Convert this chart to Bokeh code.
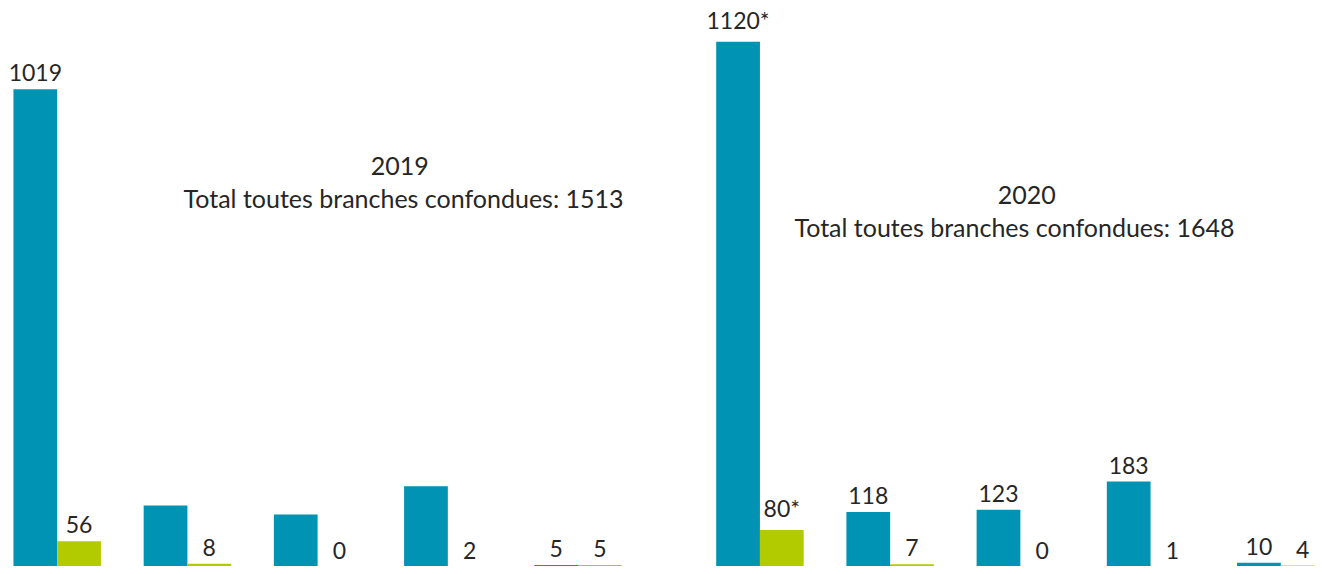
from bokeh.plotting import figure
from bokeh.models import ColumnDataSource, Range1d, Label
from bokeh.core.properties import value
from bokeh.embed import file_html
from bokeh.resources import INLINE

# ---- data ----
years = ["2019", "2020"]
totals = [1513, 1648]
n_categories = 5
blue_2019 = [1019, 132, 113, 173, 5]
green_2019 = [56, 8, 0, 2, 5]
blue_2020 = [1120, 118, 123, 183, 10]
green_2020 = [80, 7, 0, 1, 4]
blue_labels_2019 = ["1019", "", "", "", "5"]
green_labels_2019 = ["56", "8", "0", "2", "5"]
blue_labels_2020 = ["1120*", "118", "123", "183", "10"]
green_labels_2020 = ["80*", "7", "0", "1", "4"]

BLUE = "#0093B4"
GREEN = "#B2CB00"
TEXT = "#262626"
FONT = "Lato"

W, H = 1314, 566
Y0, Y1 = 2.0, 1208.0
px_per_unit = H / (Y1 - Y0)
label_gap = 8 / px_per_unit  # data units between bar top and label

group_offsets = [0.0, 5.397]
bar_w = 0.336

xs_b, xs_g, tops_b, tops_g, lab_b, lab_g = [], [], [], [], [], []
for off, bv, gv, bl, gl in zip(group_offsets, [blue_2019, blue_2020], [green_2019, green_2020],
                               [blue_labels_2019, blue_labels_2020], [green_labels_2019, green_labels_2020]):
    for i in range(n_categories):
        xs_b.append(off + i - bar_w / 2)
        xs_g.append(off + i + bar_w / 2)
        tops_b.append(bv[i])
        tops_g.append(gv[i])
        lab_b.append(bl[i])
        lab_g.append(gl[i])

src_b = ColumnDataSource(dict(x=xs_b, top=tops_b, ly=[t + label_gap for t in tops_b], label=lab_b))
src_g = ColumnDataSource(dict(x=xs_g, top=tops_g, ly=[t + label_gap for t in tops_g], label=lab_g))

p = figure(width=W, height=H, output_backend="svg", toolbar_location=None,
           x_range=Range1d(-0.4355, 9.656), y_range=Range1d(Y0, Y1),
           min_border=0)
p.axis.visible = False
p.grid.visible = False
p.outline_line_color = None
p.background_fill_color = "white"

p.vbar(x="x", top="top", bottom=0, width=bar_w, source=src_b, color=BLUE, line_color=None)
p.vbar(x="x", top="top", bottom=0, width=bar_w, source=src_g, color=GREEN, line_color=None)

for src in (src_b, src_g):
    p.text(x="x", y="ly", text="label", source=src, text_align="center",
           text_baseline="bottom", text_font=value(FONT),
           text_font_size="23px", text_color=TEXT)

# group annotations
line1_x = [2.63, 2.05]
line2_x = [2.66, 1.955]
title_y = [856.0, 794.0]
for off, x1, x2, ty, yr, tot in zip(group_offsets, line1_x, line2_x, title_y, years, totals):
    p.add_layout(Label(x=off + x1, y=ty, text=yr, text_align="center", text_baseline="middle",
                       text_font=FONT, text_font_size="25px", text_color=TEXT))
    p.add_layout(Label(x=off + x2, y=ty, y_offset=-32.5, text=f"Total toutes branches confondues: {tot}",
                       text_align="center", text_baseline="middle",
                       text_font=FONT, text_font_size="25px", text_color=TEXT))

open("out.html", "w").write(file_html(p, INLINE))
